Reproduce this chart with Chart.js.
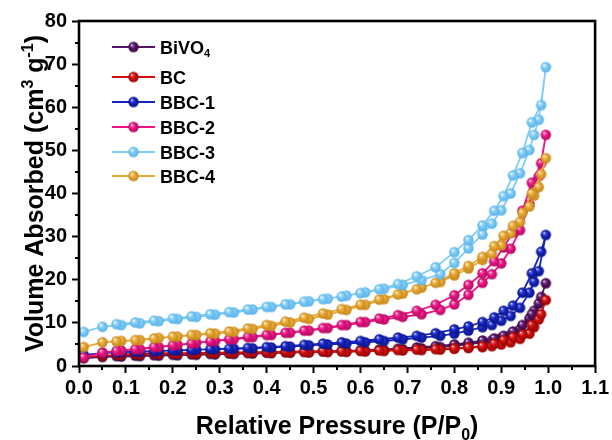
<!DOCTYPE html>
<html>
<head>
<meta charset="utf-8">
<script src="https://cdn.jsdelivr.net/npm/chart.js@4.4.1/dist/chart.umd.min.js"></script>
<style>
  html, body { margin: 0; padding: 0; background: #ffffff; }
  #wrap { width: 612px; height: 440px; }
</style>
</head>
<body>
<div id="wrap"><canvas id="isothermChart" width="612" height="440"></canvas></div>
<script>
/*
  N2 adsorption / desorption isotherms
  - adsorption branch (P/P0 going up), then desorption branch (P/P0 going down)
*/

// relative pressure, adsorption branch
const pressureAds = [0.01, 0.05, 0.09, 0.13, 0.17, 0.21, 0.25, 0.29, 0.33, 0.37, 0.41, 0.45, 0.49, 0.53, 0.57, 0.61,
  0.65, 0.69, 0.73, 0.77, 0.80, 0.83, 0.86, 0.88, 0.90, 0.92, 0.94, 0.96, 0.97, 0.98, 0.995];
// relative pressure, desorption branch
const pressureDes = [0.985, 0.965, 0.945, 0.925, 0.905, 0.885, 0.86, 0.83, 0.80, 0.76, 0.72, 0.68, 0.64, 0.60,
  0.56, 0.52, 0.48, 0.44, 0.40, 0.36, 0.32, 0.28, 0.24, 0.20, 0.16, 0.12, 0.08];

const sampleNames = ["BiVO4", "BC", "BBC-1", "BBC-2", "BBC-3", "BBC-4"];

const bivo4Ads = [1.8, 2.1, 2.2, 2.3, 2.4, 2.5, 2.6, 2.7, 2.8, 2.9, 3.0, 3.1, 3.2, 3.3, 3.4, 3.5, 3.7, 3.9, 4.1, 4.4,
  4.7, 5.0, 5.5, 5.9, 6.5, 7.2, 8.5, 11.0, 12.8, 14.5, 19.2];
const bivo4Des = [16.0, 12.0, 9.5, 8.0, 7.0, 6.4, 5.9, 5.4, 5.0, 4.6, 4.3, 4.0, 3.8, 3.6, 3.5, 3.4, 3.3, 3.2, 3.1,
  3.0, 2.9, 2.8, 2.7, 2.6, 2.5, 2.4, 2.3];

const bcAds = [2.0, 2.4, 2.6, 2.7, 2.8, 2.9, 2.9, 3.0, 3.0, 3.1, 3.1, 3.2, 3.2, 3.3, 3.3, 3.4, 3.5, 3.6, 3.7, 3.8,
  4.0, 4.2, 4.4, 4.6, 5.0, 5.5, 6.3, 7.5, 9.0, 10.8, 15.3];
const bcDes = [12.0, 9.5, 7.3, 6.7, 6.0, 5.2, 4.6, 4.3, 4.1, 3.9, 3.8, 3.7, 3.6, 3.5, 3.4, 3.4, 3.3, 3.3, 3.2, 3.2,
  3.1, 3.1, 3.0, 3.0, 2.9, 2.8, 2.7];

const bbc1Ads = [2.6, 3.0, 3.2, 3.3, 3.5, 3.6, 3.8, 3.9, 4.0, 4.1, 4.3, 4.5, 4.8, 5.0, 5.2, 5.5, 5.8, 6.2, 6.6, 7.0,
  7.5, 8.2, 9.0, 9.5, 10.5, 11.6, 13.5, 17.0, 19.5, 22.0, 30.4];
const bbc1Des = [26.5, 21.5, 17.0, 14.0, 12.8, 11.3, 10.2, 9.2, 8.5, 7.6, 7.0, 6.6, 6.2, 5.8, 5.5, 5.2, 4.9, 4.6,
  4.4, 4.2, 4.0, 3.9, 3.7, 3.6, 3.4, 3.3, 3.2];

const bbc2Ads = [2.0, 3.1, 3.6, 3.9, 4.4, 4.9, 5.4, 5.8, 6.2, 6.7, 7.2, 7.7, 8.2, 8.8, 9.5, 10.2, 10.8, 11.4, 12.0,
  13.0, 14.3, 16.5, 19.3, 21.3, 23.8, 27.2, 31.5, 37.5, 41.0, 44.0, 53.6];
const bbc2Des = [47.0, 42.5, 36.0, 31.0, 27.5, 24.3, 21.5, 18.8, 16.4, 14.2, 12.8, 11.8, 11.0, 10.2, 9.5, 8.8, 8.2,
  7.7, 7.2, 6.7, 6.2, 5.7, 5.2, 4.8, 4.4, 3.9, 3.5];

const bbc3Ads = [7.9, 9.1, 9.5, 9.9, 10.4, 10.9, 11.4, 11.9, 12.4, 13.1, 13.7, 14.3, 15.0, 15.6, 16.3, 17.1, 17.9,
  18.8, 19.9, 21.3, 23.9, 27.3, 30.5, 33.0, 36.1, 40.0, 44.7, 50.1, 53.6, 57.1, 69.3];
const bbc3Des = [60.5, 56.5, 49.4, 44.2, 39.4, 36.0, 32.6, 29.2, 26.4, 22.9, 20.8, 19.0, 17.8, 16.9, 16.1, 15.5,
  14.9, 14.3, 13.7, 13.1, 12.5, 12.0, 11.5, 11.0, 10.5, 10.1, 9.7];

const bbc4Ads = [4.4, 5.5, 5.8, 6.0, 6.5, 6.8, 7.2, 7.5, 7.9, 8.6, 9.3, 10.1, 10.9, 11.9, 13.0, 14.2, 15.5, 16.8,
  18.2, 19.5, 21.0, 22.6, 24.6, 26.0, 28.0, 30.8, 33.4, 37.0, 39.5, 41.5, 48.2];
const bbc4Des = [44.5, 40.0, 35.5, 32.5, 30.2, 27.8, 25.3, 23.2, 21.5, 19.3, 17.8, 16.6, 15.4, 14.2, 13.2, 12.2,
  11.2, 10.3, 9.5, 8.7, 8.0, 7.6, 7.2, 6.8, 6.4, 6.0, 5.7];

const xTicksMax = 1.1;
const yTicksMax = 80;

// cores: [base, claro, escuro]
const SERIES_COLORS = [
  ["#561466", "#a56cb8", "#36083f"],
  ["#d10f0f", "#f06a6a", "#950404"],
  ["#1624c2", "#6f7ef0", "#0c1585"],
  ["#ec1584", "#fb80c0", "#b20a60"],
  ["#7fccf7", "#cdeafc", "#58b2e6"],
  ["#e9a936", "#f9d68e", "#c4861a"],
];
// qual série fica por cima (menor = por cima)
const DRAW_ORDER = [6, 5, 4, 3, 1, 2];

const FONT = "'Liberation Sans', Arial, Helvetica, sans-serif";

function makeBall(colors, r) {
  const c = document.createElement("canvas");
  const s = Math.ceil(r * 2 + 2);
  c.width = s;
  c.height = s;
  const g = c.getContext("2d");
  const cx = s / 2, cy = s / 2;
  const grad = g.createRadialGradient(cx - r * 0.35, cy - r * 0.4, r * 0.05, cx, cy, r);
  grad.addColorStop(0, "#ffffff");
  grad.addColorStop(0.12, colors[1]);
  grad.addColorStop(0.45, colors[0]);
  grad.addColorStop(1, colors[2]);
  g.fillStyle = grad;
  g.beginPath();
  g.arc(cx, cy, r, 0, Math.PI * 2);
  g.fill();
  return c;
}

function toPoints(ads, des) {
  const a = pressureAds.map((p, i) => ({ x: p, y: ads[i] }));
  const d = pressureDes.map((p, i) => ({ x: p, y: des[i] }));
  return a.concat(d);
}

const seriesValues = [
  [bivo4Ads, bivo4Des],
  [bcAds, bcDes],
  [bbc1Ads, bbc1Des],
  [bbc2Ads, bbc2Des],
  [bbc3Ads, bbc3Des],
  [bbc4Ads, bbc4Des],
];

const balls = SERIES_COLORS.map((c) => makeBall(c, 5.2));

const datasets = sampleNames.map((name, i) => ({
  label: name,
  data: toPoints(seriesValues[i][0], seriesValues[i][1]),
  showLine: true,
  borderColor: SERIES_COLORS[i][0],
  borderWidth: 1.8,
  pointStyle: balls[i],
  pointRadius: 5.2,
  order: DRAW_ORDER[i],
}));

/**
 * Desenha texto com partes em sobrescrito / subscrito.
 * parts: [[texto, tipo]] tipo 0 normal, 1 sobrescrito, -1 subscrito
 */
function drawRich(ctx, parts, x, y, size, align) {
  const small = Math.round(size * 0.62);
  const widths = parts.map(([t, k]) => {
    ctx.font = `bold ${k === 0 ? size : small}px ${FONT}`;
    return ctx.measureText(t).width;
  });
  const total = widths.reduce((a, b) => a + b, 0);
  let cx = align === "center" ? x - total / 2 : x;
  ctx.textAlign = "left";
  ctx.textBaseline = "alphabetic";
  parts.forEach(([t, k], i) => {
    ctx.font = `bold ${k === 0 ? size : small}px ${FONT}`;
    const dy = k === 1 ? -size * 0.42 : k === -1 ? size * 0.22 : 0;
    ctx.fillText(t, cx, y + dy);
    cx += widths[i];
  });
}

const LEGEND_ROWS = [47, 77, 102, 127, 152, 176];
const LEGEND_TEXT = [
  [["BiVO", 0], ["4", -1]],
  [["BC", 0]],
  [["BBC-1", 0]],
  [["BBC-2", 0]],
  [["BBC-3", 0]],
  [["BBC-4", 0]],
];

const decorPlugin = {
  id: "decor",
  afterDraw(chart) {
    const ctx = chart.ctx;
    const area = chart.chartArea;
    const xs = chart.scales.x;
    const ys = chart.scales.y;
    ctx.save();
    ctx.fillStyle = "#000";
    ctx.strokeStyle = "#000";

    // moldura
    ctx.lineWidth = 2.6;
    ctx.strokeRect(area.left, area.top, area.right - area.left, area.bottom - area.top);

    // ticks menores
    ctx.lineWidth = 2;
    ctx.beginPath();
    for (let v = 5; v < yTicksMax; v += 10) {
      const py = Math.round(ys.getPixelForValue(v));
      ctx.moveTo(area.left - 4, py);
      ctx.lineTo(area.left, py);
    }
    for (let k = 0; k < 11; k++) {
      const px = Math.round(xs.getPixelForValue(0.05 + k * 0.1));
      ctx.moveTo(px, area.bottom);
      ctx.lineTo(px, area.bottom + 4);
    }
    ctx.stroke();

    // legenda
    LEGEND_ROWS.forEach((ry, i) => {
      ctx.strokeStyle = SERIES_COLORS[i][0];
      ctx.lineWidth = 1.8;
      ctx.beginPath();
      ctx.moveTo(112, ry);
      ctx.lineTo(155, ry);
      ctx.stroke();
      const b = balls[i];
      ctx.drawImage(b, 133.5 - b.width / 2, ry - b.height / 2);
      ctx.fillStyle = "#000";
      drawRich(ctx, LEGEND_TEXT[i], 160, ry + 6.5, 18, "left");
    });

    // títulos dos eixos
    ctx.fillStyle = "#000";
    drawRich(ctx, [["Relative Pressure (P/P", 0], ["0", -1], [")", 0]], (area.left + area.right) / 2, 434, 25, "center");
    ctx.translate(43, (area.top + area.bottom) / 2);
    ctx.rotate(-Math.PI / 2);
    drawRich(ctx, [["Volume Absorbed (cm", 0], ["3", 1], [" g", 0], ["-1", 1], [")", 0]], 0, 0, 25, "center");
    ctx.restore();
  },
};

function initIsothermChart() {
  const ctx = document.getElementById("isothermChart");
  new Chart(ctx, {
    type: "scatter",
    data: { datasets },
    options: {
      responsive: false,
      animation: false,
      events: [],
      layout: { padding: { top: 21, right: 16, left: 0, bottom: 0 } },
      plugins: { legend: { display: false }, tooltip: { enabled: false } },
      scales: {
        x: {
          type: "linear",
          min: 0,
          max: xTicksMax,
          afterFit: (s) => { s.height = 74; },
          border: { display: false },
          grid: { drawOnChartArea: false, drawTicks: true, tickLength: 7, tickWidth: 2, tickColor: "#000" },
          ticks: {
            stepSize: 0.1,
            padding: 3,
            color: "#000",
            font: { family: FONT, size: 20, weight: "bold" },
            maxRotation: 0,
            callback: (v) => Number(v).toFixed(1),
          },
        },
        y: {
          min: 0,
          max: yTicksMax,
          afterFit: (s) => { s.width = 79; },
          border: { display: false },
          grid: { drawOnChartArea: false, drawTicks: true, tickLength: 7, tickWidth: 2, tickColor: "#000" },
          ticks: {
            stepSize: 10,
            padding: 5,
            color: "#000",
            font: { family: FONT, size: 20, weight: "bold" },
          },
        },
      },
    },
    plugins: [decorPlugin],
  });
}

initIsothermChart();
</script>
</body>
</html>
